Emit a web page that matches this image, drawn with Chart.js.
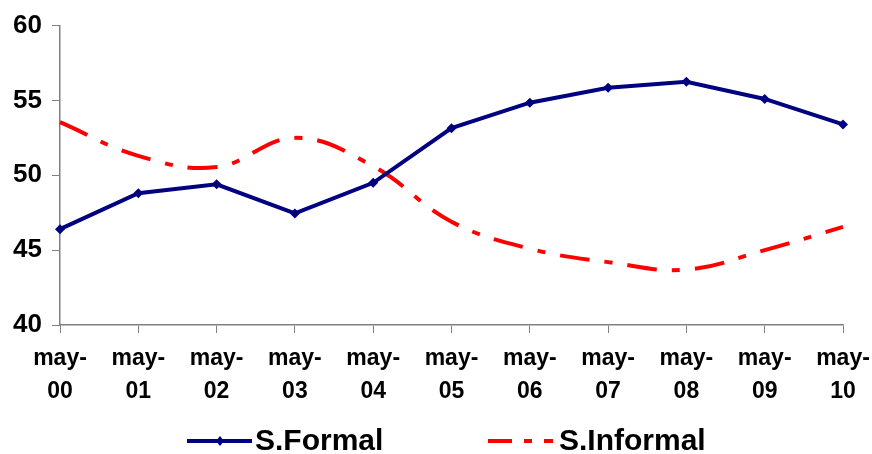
<!DOCTYPE html>
<html>
<head>
<meta charset="utf-8">
<script src="https://cdn.jsdelivr.net/npm/chart.js@4"></script>
<style>
  html, body { margin: 0; padding: 0; background: #fff; }
  #wrap { width: 872px; height: 454px; }
</style>
</head>
<body>
<div id="wrap"><canvas id="graph1" width="872" height="454"></canvas></div>
<script>
// categories (may-00 .. may-10)
const years = ['00', '01', '02', '03', '04', '05', '06', '07', '08', '09', '10'];
const labels = years.map(y => ['may-', y]);

// series values
const formal = [46.4, 48.8, 49.4, 47.45, 49.5, 53.15, 54.85, 55.85, 56.25, 55.1, 53.4];
const informal = [53.55, 51.3, 50.55, 52.5, 50.6, 46.9, 45.1, 44.2, 43.7, 45.0, 46.55];

const yTicks = [40, 45, 50, 55, 60];

const FONT = '"Liberation Sans", Arial, sans-serif';

// legend drawn by hand so the sample lines are long like the original
const legendPlugin = {
    id: 'bottomLegend',
    afterDraw(chart) {
        const ctx = chart.ctx;
        const y = 441;
        ctx.save();
        // S.Formal
        ctx.strokeStyle = '#000080';
        ctx.lineWidth = 4;
        ctx.beginPath();
        ctx.moveTo(187, y);
        ctx.lineTo(252, y);
        ctx.stroke();
        ctx.fillStyle = '#000080';
        ctx.beginPath();
        ctx.moveTo(220, y - 5);
        ctx.lineTo(224, y);
        ctx.lineTo(220, y + 5);
        ctx.lineTo(216, y);
        ctx.closePath();
        ctx.fill();
        // S.Informal
        ctx.strokeStyle = '#ff0000';
        ctx.setLineDash([24, 12, 8, 12]);
        ctx.beginPath();
        ctx.moveTo(488, y);
        ctx.lineTo(553, y);
        ctx.stroke();
        ctx.setLineDash([]);
        ctx.fillStyle = '#000';
        ctx.font = 'bold 30px ' + FONT;
        ctx.textBaseline = 'middle';
        ctx.fillText('S.Formal', 255, y + 1);
        ctx.fillText('S.Informal', 559, y + 1);
        ctx.restore();
    }
};

new Chart(document.getElementById('graph1'), {
    type: 'line',
    data: {
        labels: labels,
        datasets: [
            {
                label: 'S.Formal',
                data: formal,
                borderColor: '#000080',
                backgroundColor: '#000080',
                borderWidth: 4,
                pointStyle: 'rectRot',
                pointRadius: 5,
                pointBorderWidth: 0,
                tension: 0,
            },
            {
                label: 'S.Informal',
                data: informal,
                borderColor: '#ff0000',
                backgroundColor: '#ff0000',
                borderWidth: 4,
                borderDash: [30, 15, 8, 15],
                pointRadius: 0,
                tension: 0.4,
            },
        ],
    },
    options: {
        responsive: false,
        animation: false,
        layout: { padding: { top: 25, right: 0, bottom: 0, left: 0 } },
        plugins: {
            legend: { display: false },
            tooltip: { enabled: false },
        },
        scales: {
            x: {
                offset: false,
                grid: { drawOnChartArea: false, drawTicks: true, tickLength: 8, color: '#808080' },
                border: { color: '#808080', width: 1.5 },
                ticks: {
                    color: '#000',
                    font: { family: FONT, size: 23, weight: 'bold', lineHeight: 1.45 },
                    maxRotation: 0,
                    autoSkip: false,
                    padding: 9,
                },
                afterFit(scale) {
                    scale.height = 129;
                    scale.paddingRight = 29;
                },
            },
            y: {
                min: 40,
                max: 60,
                afterBuildTicks(scale) { scale.ticks = yTicks.map(v => ({ value: v })); },
                grid: { drawOnChartArea: false, drawTicks: true, tickLength: 8, color: '#808080' },
                border: { color: '#808080', width: 1.5 },
                ticks: {
                    color: '#000',
                    font: { family: FONT, size: 26, weight: 'bold' },
                    padding: 10,
                },
                afterFit(scale) { scale.width = 60; },
            },
        },
    },
    plugins: [legendPlugin],
});
</script>
</body>
</html>
